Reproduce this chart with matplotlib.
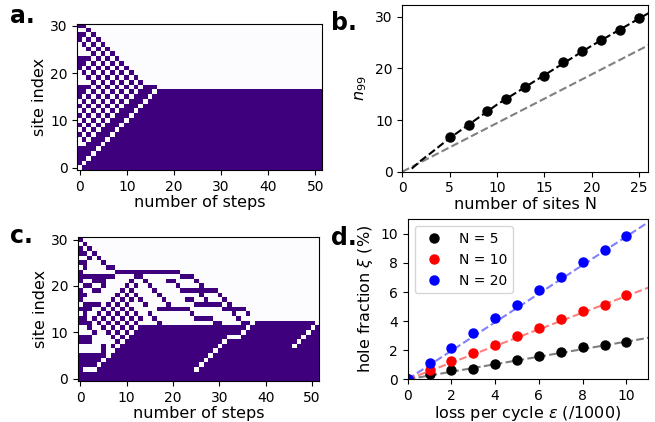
import numpy as np
import matplotlib
matplotlib.use("Agg")
import matplotlib.pyplot as plt

n_steps = 52
n_sites = 31

# ---- panel a: initial occupation of sites 0..30 (1 = atom), sorted step by step
a_init = [0, 1, 1, 1, 1, 0, 0, 1, 0, 1, 0, 1, 0, 1, 0, 1, 1, 1, 0, 0,
          0, 1, 1, 1, 0, 0, 0, 1, 1, 0, 1]

# ---- panel c: occupied (step_from, step_to) runs per site
c_runs = {
    30: [(0, 0)], 29: [(1, 1)], 28: [(0, 0), (2, 2)], 27: [(0, 1), (3, 3)],
    26: [(2, 2), (4, 4)], 25: [(0, 1), (5, 5)], 24: [(1, 1), (6, 7)],
    23: [(0, 0), (8, 21)],
    22: [(0, 7), (12, 13), (22, 24)],
    21: [(0, 0), (3, 5), (11, 11), (14, 14), (19, 20), (25, 25)],
    20: [(1, 2), (5, 5), (10, 10), (12, 12), (15, 15), (21, 21), (26, 26)],
    19: [(0, 0), (3, 4), (9, 9), (11, 11), (16, 16), (22, 29)],
    18: [(0, 1), (8, 8), (10, 10), (12, 12), (17, 17), (26, 26), (30, 30)],
    17: [(0, 0), (7, 7), (9, 9), (11, 11), (13, 13), (18, 18), (23, 24),
         (27, 27), (31, 31)],
    16: [(1, 4), (6, 6), (8, 8), (10, 10), (14, 14), (19, 19), (25, 30), (32, 32)],
    15: [(0, 2), (5, 5), (7, 7), (9, 9), (11, 11), (17, 23), (31, 35)],
    14: [(1, 1), (4, 4), (6, 6), (8, 8), (10, 10), (12, 12), (15, 15), (24, 24),
         (33, 33), (36, 36)],
    13: [(0, 1), (3, 3), (5, 5), (7, 7), (9, 9), (11, 11), (13, 13), (16, 16),
         (25, 28), (34, 34)],
    12: [(0, 2), (4, 4), (6, 6), (8, 8), (10, 10), (12, 12), (17, 17), (29, 30),
         (35, 36), (38, 50)],
    11: [(2, 2), (5, 5), (7, 7), (9, 9), (11, 11), (13, 51)],
    10: [(3, 3), (6, 6), (8, 8), (10, 10), (12, 51)],
    9: [(0, 2), (7, 7), (9, 9), (11, 51)],
    8: [(0, 2), (8, 8), (10, 51)],
    7: [(5, 5), (7, 7), (9, 51)],
    6: [(5, 5), (8, 51)],
    5: [(0, 5), (7, 51)],
    4: [(0, 4), (6, 51)],
    3: [(0, 3), (5, 51)],
    2: [(0, 0), (4, 51)],
    1: [(0, 51)],
    0: [(0, 51)],
}
# holes left by lost atoms, (step, site)
c_holes = [(25, 2), (26, 3), (27, 4), (28, 5), (29, 6), (30, 7), (31, 8), (32, 9),
           (33, 9), (34, 9), (35, 10), (36, 11), (46, 7), (47, 8), (48, 9),
           (49, 10), (50, 11)]

# ---- panel b
b_N = [5, 7, 9, 11, 13, 15, 17, 19, 21, 23, 25]
b_n99 = [6.7, 9.0, 11.7, 14.1, 16.5, 18.6, 21.2, 23.4, 25.5, 27.5, 29.8]
b_fit_N = [1, 2, 3, 5, 10, 15, 20, 26]
b_fit_n = [0.6, 2.2, 3.6, 6.5, 13.0, 18.7, 24.4, 30.7]
b_lin_N = [0, 26]
b_lin_n = [0, 24.5]

# ---- panel d
d_eps = [0, 1, 2, 3, 4, 5, 6, 7, 8, 9, 10]
d_N5 = [0, 0.34, 0.64, 0.73, 1.03, 1.35, 1.63, 1.88, 2.2, 2.36, 2.55]
d_N10 = [0, 0.62, 1.28, 1.79, 2.39, 3.0, 3.53, 4.15, 4.72, 5.11, 5.83]
d_N20 = [0, 1.12, 2.18, 3.19, 4.2, 5.14, 6.12, 7.06, 8.05, 8.92, 9.86]
d_fit_x = [0, 11]
d_fit5 = [0, 2.85]
d_fit10 = [0, 6.3]
d_fit20 = [0, 10.8]


def sort_run(init, nsteps):
    # odd-even transposition: atoms move down into an empty neighbour
    s = np.array(init)
    cols = [s.copy()]
    for k in range(nsteps - 1):
        for i in range(k % 2, len(s) - 1, 2):
            if s[i] == 0 and s[i + 1] == 1:
                s[i], s[i + 1] = 1, 0
        cols.append(s.copy())
    return np.array(cols).T


a_grid = sort_run(a_init, n_steps)

c_grid = np.zeros((n_sites, n_steps))
for site, runs in c_runs.items():
    for c0, c1 in runs:
        c_grid[site, c0:c1 + 1] = 1
for col, site in c_holes:
    c_grid[site, col] = 0

plt.rcParams['font.size'] = 10
fig = plt.figure(figsize=(6.55, 4.22), dpi=100)

ax_a = fig.add_axes([0.1183, 0.5972, 0.374, 0.3469])
ax_b = fig.add_axes([0.6142, 0.5931, 0.3756, 0.395])
ax_c = fig.add_axes([0.1191, 0.0972, 0.368, 0.3405])
ax_d = fig.add_axes([0.6224, 0.1012, 0.3673, 0.3791])

for ax, grid in [(ax_a, a_grid), (ax_c, c_grid)]:
    ax.imshow(grid, origin='lower', aspect='auto', cmap='Purples',
              vmin=0, vmax=1, interpolation='nearest')
    ax.set_xticks([0, 10, 20, 30, 40, 50])
    ax.set_yticks([0, 10, 20, 30])
    ax.set_xlabel('number of steps', fontsize=11.5, labelpad=1)
    ax.set_ylabel('site index', fontsize=11.5, labelpad=2)

ax_b.plot(b_lin_N, b_lin_n, '--', color='gray', lw=1.5)
ax_b.plot(b_fit_N, b_fit_n, '--', color='black', lw=1.5)
ax_b.plot(b_N, b_n99, 'o', color='black', ms=6.5)
ax_b.set_xlim(0, 26)
ax_b.set_ylim(0, 32.3)
ax_b.set_xticks([0, 5, 10, 15, 20, 25])
ax_b.set_yticks([0, 10, 20, 30])
ax_b.set_xlabel('number of sites N', fontsize=11.5, labelpad=1)
ax_b.set_ylabel('$n_{99}$', fontsize=11.5)

ax_d.plot(d_fit_x, d_fit5, '--', color='black', alpha=0.5, lw=1.5)
ax_d.plot(d_fit_x, d_fit10, '--', color='red', alpha=0.5, lw=1.5)
ax_d.plot(d_fit_x, d_fit20, '--', color='blue', alpha=0.5, lw=1.5)
ax_d.plot(d_eps, d_N5, 'o', color='black', ms=6.5, label='N = 5')
ax_d.plot(d_eps, d_N10, 'o', color='red', ms=6.5, label='N = 10')
ax_d.plot(d_eps, d_N20, 'o', color='blue', ms=6.5, label='N = 20')
ax_d.set_xlim(0, 11)
ax_d.set_ylim(0, 11)
ax_d.set_xticks([0, 2, 4, 6, 8, 10])
ax_d.set_yticks([0, 2, 4, 6, 8, 10])
ax_d.set_xlabel(r'loss per cycle $\varepsilon$ (/1000)', fontsize=11.5, labelpad=1)
ax_d.set_ylabel(r'hole fraction $\xi$ (%)', fontsize=11.5)
ax_d.legend(loc='upper left', fontsize=10)

fig.text(0.015, 0.945, 'a.', fontsize=17, fontweight='bold')
fig.text(0.505, 0.93, 'b.', fontsize=17, fontweight='bold')
fig.text(0.015, 0.425, 'c.', fontsize=17, fontweight='bold')
fig.text(0.505, 0.42, 'd.', fontsize=17, fontweight='bold')

fig.savefig('out.png', dpi=100)
